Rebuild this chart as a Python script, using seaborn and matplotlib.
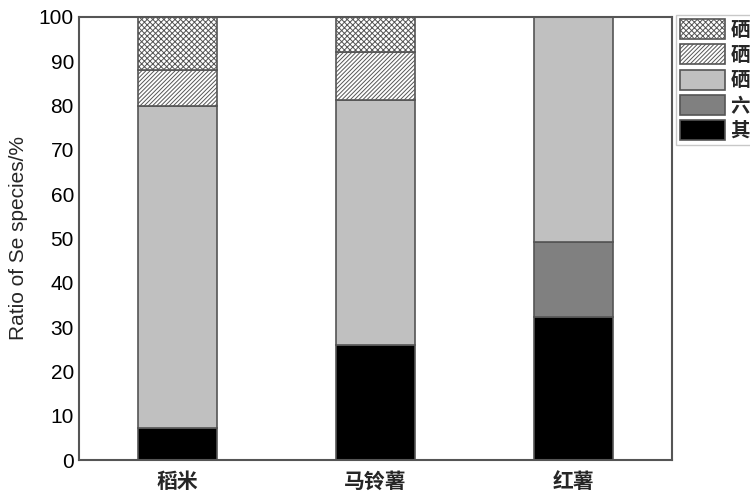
import numpy as np
import pandas as pd
import matplotlib
matplotlib.use("Agg")
import matplotlib.pyplot as plt
import seaborn as sns
from matplotlib.ticker import MultipleLocator

foods = ['稻米', '马铃薯', '红薯']
species = ['其他', '六价硒', '硒代蛋氨酸', '硒甲基硒代半胱氨酸', '硒代胱氨酸']
other = [7.2, 26.0, 32.2]
se6 = [0.0, 0.0, 17.1]
semet = [72.6, 55.3, 50.7]
mesecys = [8.2, 10.9, 0.0]
secys2 = [12.0, 7.8, 0.0]

sns.set_style('white')
plt.rcParams['font.family'] = ['Liberation Sans', 'Noto Sans CJK SC']
plt.rcParams['hatch.color'] = '#555555'
plt.rcParams['hatch.linewidth'] = 0.7

fig = plt.figure(figsize=(7.5, 5), dpi=100)
ax = fig.add_axes([0.105, 0.08, 0.791, 0.886])

layers = [other, se6, semet, mesecys, secys2]
fills = ['#000000', '#808080', '#c0c0c0', 'white', 'white']
hatches = [None, None, None, '////////', 'xxxxxx']
bottom = np.zeros(len(foods))
for name, vals, fc, h in zip(species, layers, fills, hatches):
    df = pd.DataFrame({'food': foods, 'val': vals})
    sns.barplot(data=df, x='food', y='val', bottom=bottom, color=fc, hatch=h,
                edgecolor='#555555', linewidth=1.2, width=0.4, saturation=1,
                ax=ax, label=name)
    bottom = bottom + np.array(vals)
if ax.get_legend() is not None:
    ax.get_legend().remove()

ax.set_xlim(-0.5, 2.5)
ax.set_ylim(0, 100)
ax.yaxis.set_major_locator(MultipleLocator(10))
ax.yaxis.set_minor_locator(MultipleLocator(5))
ax.tick_params(axis='y', which='major', direction='in', length=6, width=1.2,
               labelsize=15, colors='#333333', labelcolor='black')
ax.tick_params(axis='y', which='minor', direction='in', length=3, width=1.0, colors='#333333')
ax.tick_params(axis='x', length=0, labelsize=15, pad=8)
for s in ax.spines.values():
    s.set_color('#555555')
    s.set_linewidth(1.5)
ax.set_xlabel('')
ax.set_ylabel('Ratio of Se species/%', fontsize=15, labelpad=8)
for lab in ax.get_xticklabels():
    lab.set_fontfamily(['Noto Sans CJK SC'])
    lab.set_fontweight('bold')

h, l = ax.get_legend_handles_labels()
leg = fig.legend(h[::-1], l[::-1], loc='upper left',
                 bbox_to_anchor=(676 / 750, 1 - 15 / 500), fontsize=14,
                 handlelength=2.3, handleheight=1.2, labelspacing=0.25,
                 handletextpad=0.3, borderpad=0.2, borderaxespad=0,
                 frameon=True, fancybox=False, edgecolor='#bbbbbb')
for t in leg.get_texts():
    t.set_fontfamily(['Noto Sans CJK SC'])
    t.set_fontweight('bold')

fig.savefig('out.png', dpi=100)
